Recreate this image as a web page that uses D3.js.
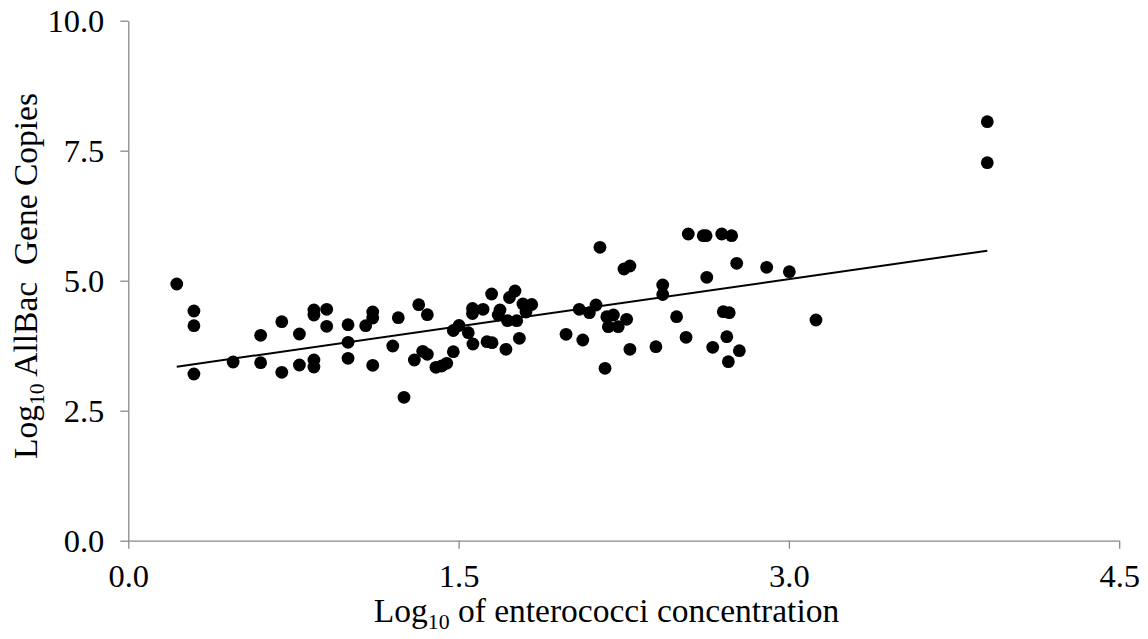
<!DOCTYPE html>
<html>
<head>
<meta charset="utf-8">
<script src="https://cdn.jsdelivr.net/npm/d3@7"></script>
<style>
  html, body { margin: 0; padding: 0; background: #ffffff; }
  svg { display: block; }
  text { font-family: "Liberation Serif", "Times New Roman", serif; fill: #000; }
</style>
</head>
<body>
<svg id="chart" width="1148" height="639"></svg>
<script>
// ---- data ----
const enterococci = [
  0.220, 0.298, 0.298, 0.298, 0.476, 0.601, 0.601, 0.697, 0.697, 0.777,
  0.777, 0.843, 0.843, 0.843, 0.843, 0.901, 0.901, 0.998, 0.998, 0.998,
  1.078, 1.110, 1.110, 1.110, 1.201, 1.226, 1.252, 1.319, 1.358, 1.299,
  1.337, 1.358, 1.397, 1.423, 1.446, 1.476, 1.476, 1.502, 1.544, 1.565,
  1.563, 1.563, 1.611, 1.650, 1.629, 1.652, 1.688, 1.680, 1.715, 1.722,
  1.731, 1.756, 1.764, 1.776, 1.792, 1.806, 1.832, 1.988, 2.048, 2.064,
  2.094, 2.124, 2.165, 2.173, 2.203, 2.180, 2.225, 2.263, 2.142, 2.251,
  2.278, 2.278, 2.396, 2.427, 2.427, 2.490, 2.543, 2.611, 2.624, 2.695,
  2.740, 2.763, 2.899, 3.002, 2.627, 2.702, 2.729, 3.123, 2.533, 2.718,
  2.654, 2.775, 2.725, 3.901, 3.901
];
const allBac = [
  4.937, 4.417, 4.135, 3.206, 3.437, 3.950, 3.423, 4.212, 3.238, 3.975,
  3.379, 4.437, 4.340, 3.475, 3.340, 4.450, 4.123, 4.154, 3.815, 3.508,
  4.135, 4.398, 4.283, 3.373, 3.744, 4.288, 2.758, 4.538, 4.346, 3.475,
  3.642, 3.585, 3.335, 3.360, 3.412, 3.635, 4.042, 4.138, 4.000, 3.783,
  4.465, 4.369, 4.450, 4.744, 3.827, 3.808, 4.437, 4.340, 3.681, 4.231,
  4.677, 4.802, 4.231, 3.892, 4.552, 4.398, 4.542, 3.969, 4.450, 3.860,
  4.385, 4.533, 3.315, 4.308, 4.340, 4.115, 4.115, 4.258, 5.642, 5.225,
  5.283, 3.681, 3.731, 4.917, 4.735, 4.308, 5.898, 5.865, 5.865, 5.898,
  5.865, 5.335, 5.258, 5.173, 5.065, 4.404, 4.385, 4.244, 3.912, 3.923,
  3.719, 3.654, 3.442, 7.269, 8.058
];
const trendIntercept = 3.213;
const trendSlope = 0.606;
const xTicks = [0, 1.5, 3.0, 4.5];
const yTicks = [0, 2.5, 5.0, 7.5, 10.0];
const xDomain = [0, 4.5];
const yDomain = [0, 10];
const xTitleMain = "Log";
const xTitleSub = "10";
const xTitleRest = " of enterococci concentration";
const yTitleMain = "Log";
const yTitleSub = "10";
const yTitleRest = " AllBac  Gene Copies";

// ---- layout ----
const svg = d3.select("#chart");
const plotLeft = 128.3, plotRight = 1119.2, plotTop = 20.7, plotBottom = 540.7;
const axisColor = "#898989";
const tickFont = 32.5, titleFont = 33.5;

const x = d3.scaleLinear().domain(xDomain).range([plotLeft, plotRight]);
const y = d3.scaleLinear().domain(yDomain).range([plotBottom, plotTop]);

// x axis
const gx = svg.append("g").attr("transform", `translate(0,${plotBottom})`)
  .call(d3.axisBottom(x).tickValues(xTicks).tickFormat(d3.format(".1f")).tickSize(8).tickSizeOuter(0));
gx.select(".domain").attr("stroke", axisColor).attr("stroke-width", 1.3);
gx.selectAll(".tick line").attr("stroke", axisColor).attr("stroke-width", 1.3);
gx.selectAll(".tick text").attr("font-size", tickFont).attr("font-family", "Liberation Serif")
  .attr("y", 46).attr("dy", 0).attr("fill", "#000");

// y axis
const gy = svg.append("g").attr("transform", `translate(${plotLeft},0)`)
  .call(d3.axisLeft(y).tickValues(yTicks).tickFormat(d3.format(".1f")).tickSize(8).tickSizeOuter(0));
gy.select(".domain").attr("stroke", axisColor).attr("stroke-width", 1.3);
gy.selectAll(".tick line").attr("stroke", axisColor).attr("stroke-width", 1.3);
gy.selectAll(".tick text").attr("font-size", tickFont).attr("font-family", "Liberation Serif")
  .attr("x", -24).attr("dy", "0.34em").attr("fill", "#000");

// points
const pts = enterococci.map((v, i) => ({ x: v, y: allBac[i] }));
svg.append("g").selectAll("circle").data(pts).join("circle")
  .attr("cx", d => x(d.x)).attr("cy", d => y(d.y)).attr("r", 6.4).attr("fill", "#000");

// trend line
const xMin = d3.min(enterococci), xMax = d3.max(enterococci);
svg.append("line")
  .attr("x1", x(xMin)).attr("y1", y(trendIntercept + trendSlope * xMin))
  .attr("x2", x(xMax)).attr("y2", y(trendIntercept + trendSlope * xMax))
  .attr("stroke", "#000").attr("stroke-width", 2);

// x title
const xt = svg.append("text").attr("x", 606.5).attr("y", 622).attr("text-anchor", "middle")
  .attr("font-size", titleFont);
xt.append("tspan").text(xTitleMain);
xt.append("tspan").attr("font-size", titleFont * 0.65).attr("dy", 7).text(xTitleSub);
xt.append("tspan").attr("dy", -7).text(xTitleRest);

// y title
const yt = svg.append("text").attr("transform", `translate(37,276) rotate(-90)`)
  .attr("text-anchor", "middle").attr("font-size", titleFont);
yt.append("tspan").text(yTitleMain);
yt.append("tspan").attr("font-size", titleFont * 0.65).attr("dy", 7).text(yTitleSub);
yt.append("tspan").attr("dy", -7).style("white-space", "pre").text(yTitleRest);
</script>
</body>
</html>
